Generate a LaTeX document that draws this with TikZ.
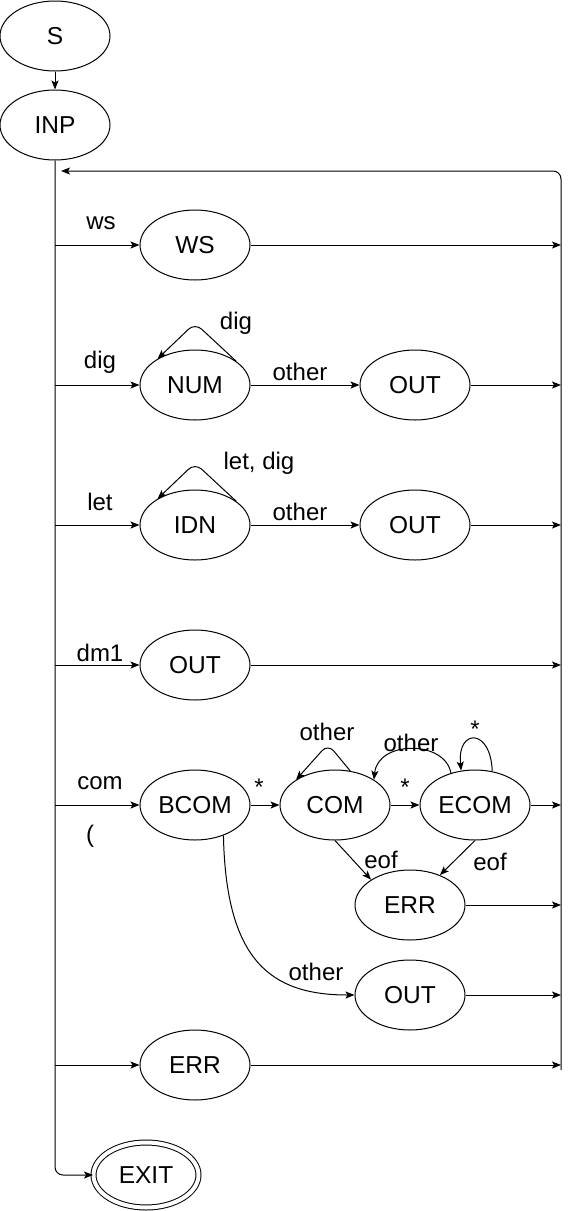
\documentclass[tikz,border=0pt]{standalone}
\usepackage{fontspec}
\setmainfont{Liberation Sans}
\usetikzlibrary{shapes.geometric,arrows.meta}
\begin{document}
\begin{tikzpicture}[x=1pt,y=-1pt,line width=1pt,
  st/.style={ellipse,draw,minimum width=110pt,minimum height=70pt,inner sep=0pt,font=\fontsize{24.5}{28}\selectfont},
  lbl/.style={font=\fontsize{24}{28}\selectfont,inner sep=0pt},
  arr/.style={-{Stealth[length=9pt,width=7pt,inset=2pt]}}]
\useasboundingbox (0,0) rectangle (569,1211);
% states
\node[st] (S) at (55,36) {S};
\node[st] (INP) at (55,125) {INP};
\node[st] (WS) at (195,245) {WS};
\node[st] (NUM) at (195,385) {NUM};
\node[st] (OUTa) at (415,385) {OUT};
\node[st] (IDN) at (195,525) {IDN};
\node[st] (OUTb) at (415,525) {OUT};
\node[st] (OUTc) at (195,665) {OUT};
\node[st] (BCOM) at (195,805) {BCOM};
\node[st] (COM) at (335,805) {COM};
\node[st] (ECOM) at (475,805) {ECOM};
\node[st] (ERRa) at (410,905) {ERR};
\node[st] (OUTd) at (410,995) {OUT};
\node[st] (ERRb) at (195,1065) {ERR};
\node[st,minimum width=105pt,minimum height=65pt,double,double distance=4pt] (EXIT) at (146,1175) {EXIT};
% coordinates
\coordinate (b1) at (55,245); \coordinate (e1) at (561,245);
\coordinate (b2) at (55,385); \coordinate (e2) at (561,385);
\coordinate (b3) at (55,525); \coordinate (e3) at (561,525);
\coordinate (b4) at (55,665); \coordinate (e4) at (561,665);
\coordinate (b5) at (55,805); \coordinate (e5) at (561,805);
\coordinate (e6) at (561,905);
\coordinate (e7) at (561,995);
\coordinate (b8) at (55,1065); \coordinate (e8) at (561,1065);
\coordinate (rb) at (561,1070); \coordinate (ret) at (61,171);
\coordinate (pk1) at (195,323); \coordinate (pk2) at (195,463);
\coordinate (pk3) at (328,744);
% edges
\draw[arr] (S) -- (INP);
\draw[arr,rounded corners=8pt] (INP.south) |- (EXIT.west);
\draw[arr,rounded corners=8pt] (rb) |- (ret);
\draw[arr] (b1) -- (WS); \draw[arr] (WS) -- (e1);
\draw[arr] (b2) -- (NUM); \draw[arr] (NUM) -- (OUTa); \draw[arr] (OUTa) -- (e2);
\draw[arr] (b3) -- (IDN); \draw[arr] (IDN) -- (OUTb); \draw[arr] (OUTb) -- (e3);
\draw[arr] (b4) -- (OUTc); \draw[arr] (OUTc) -- (e4);
\draw[arr] (b5) -- (BCOM); \draw[arr] (BCOM) -- (COM); \draw[arr] (COM) -- (ECOM); \draw[arr] (ECOM) -- (e5);
\draw[arr] (ERRa) -- (e6);
\draw[arr] (OUTd) -- (e7);
\draw[arr] (b8) -- (ERRb); \draw[arr] (ERRb) -- (e8);
\draw[arr,rounded corners=9pt] (NUM.30) -- (pk1) -- (NUM.145);
\draw[arr,rounded corners=9pt] (IDN.30) -- (pk2) -- (IDN.145);
\draw[arr,rounded corners=9pt] (COM.66) -- (pk3) -- (COM.147);
\draw[arr] (ECOM.127) .. controls (445,740) and (378,740) .. (COM.33);
\draw[arr] (ECOM.63) .. controls (491,728) and (457,728) .. (ECOM.112);
\draw[arr] (COM.south) -- (ERRa.147);
\draw[arr] (ECOM.south) -- (ERRa.45);
\draw[arr] (BCOM.-47) .. controls (226,960) and (270,995) .. (OUTd.west);
% labels
\node[lbl] (l1) at (101,223) {ws};
\node[lbl] (l2) at (100,362) {dig};
\node[lbl] (l3) at (100,502) {let};
\node[lbl] (l4) at (100,653) {dm1};
\node[lbl] (l5) at (100,783) {com};
\node[lbl] (l6) at (90,836) {(};
\node[lbl] (l7) at (236,323) {dig};
\node[lbl] (l8) at (259,463) {let, dig};
\node[lbl] (l9) at (300,372) {other};
\node[lbl] (l10) at (300,512) {other};
\node[lbl] (l11) at (259,787) {*};
\node[lbl] (l12) at (405,787) {*};
\node[lbl] (l13) at (327,732) {other};
\node[lbl] (l14) at (411,743) {other};
\node[lbl] (l15) at (475,729) {*};
\node[lbl] (l16) at (381,860) {eof};
\node[lbl] (l17) at (490,862) {eof};
\node[lbl] (l18) at (316,972) {other};
\end{tikzpicture}
\end{document}
